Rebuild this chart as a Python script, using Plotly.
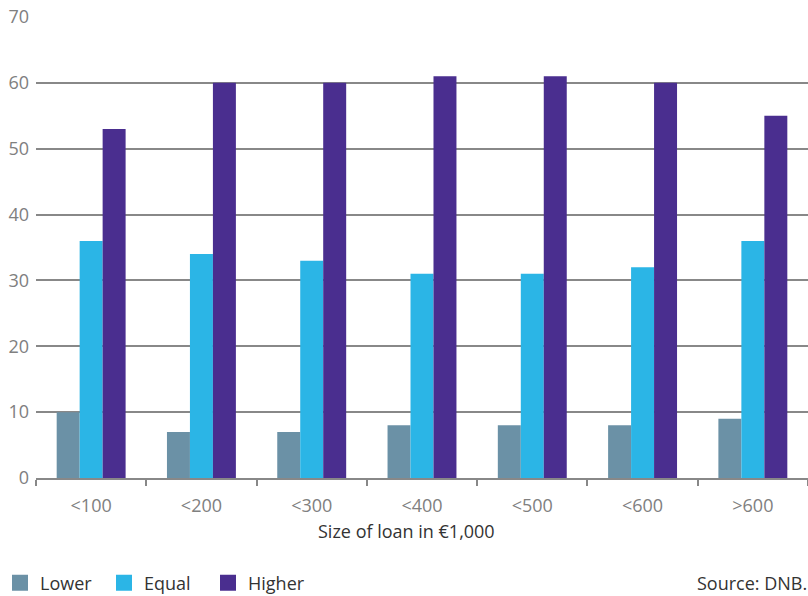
import plotly.graph_objects as go

categories = ["<100", "<200", "<300", "<400", "<500", "<600", ">600"]
lower = [10, 7, 7, 8, 8, 8, 9]
equal = [36, 34, 33, 31, 31, 32, 36]
higher = [53, 60, 60, 61, 61, 60, 55]
series_names = ["Lower", "Equal", "Higher"]
colors = ["#6b91a6", "#2bb5e6", "#4a2e8f"]
y_ticks = [0, 10, 20, 30, 40, 50, 60, 70]

FONT = "Open Sans"
fig = go.Figure()
for name, vals, col in zip(series_names, [lower, equal, higher], colors):
    fig.add_trace(go.Bar(x=categories, y=vals, name=name, marker_color=col,
                         marker_line_width=0, showlegend=False))
    # legend proxy with larger square symbol
    fig.add_trace(go.Scatter(x=[None], y=[None], mode="markers", name=name,
                             marker=dict(symbol="square", size=19, color=col)))

fig.update_layout(
    width=808, height=596,
    margin=dict(l=36, r=0, t=17, b=118, autoexpand=False),
    paper_bgcolor="white", plot_bgcolor="white",
    barmode="group", bargap=0.375, bargroupgap=0,
    font=dict(family=FONT, size=18, color="#808080"),
    showlegend=True,
    legend=dict(orientation="h", xref="container", yref="container",
                x=-0.0165, y=0.0218, xanchor="left", yanchor="middle",
                font=dict(family=FONT, size=18, color="#333333"),
                entrywidth=59, entrywidthmode="pixels",
                itemwidth=30, tracegroupgap=0, bgcolor="rgba(0,0,0,0)"),
    xaxis=dict(type="category", tickson="boundaries", ticks="outside", ticklen=6,
               tickcolor="#888888", tickwidth=1.5, showline=True, linecolor="#888888",
               linewidth=2, showgrid=False, automargin=False, ticklabelstandoff=10,
               tickfont=dict(size=18, color="#808080")),
    yaxis=dict(range=[0, 70], tickvals=y_ticks, showgrid=True, gridcolor="#888888",
               gridwidth=1.5, zeroline=False, showline=False, ticks="", automargin=False,
               tickfont=dict(size=18, color="#808080"), ticklabelstandoff=6),
)
fig.add_annotation(text="Size of loan in €1,000", x=0.48, y=-0.115, xref="paper", yref="paper",
                   showarrow=False, xanchor="center", yanchor="middle",
                   font=dict(family=FONT, size=18, color="#333333"))
fig.add_annotation(text="Source: DNB.", x=0.853, y=-0.228, xref="paper", yref="paper",
                   showarrow=False, xanchor="left", yanchor="middle",
                   font=dict(family=FONT, size=18, color="#333333"))
fig.write_html("out.html")
